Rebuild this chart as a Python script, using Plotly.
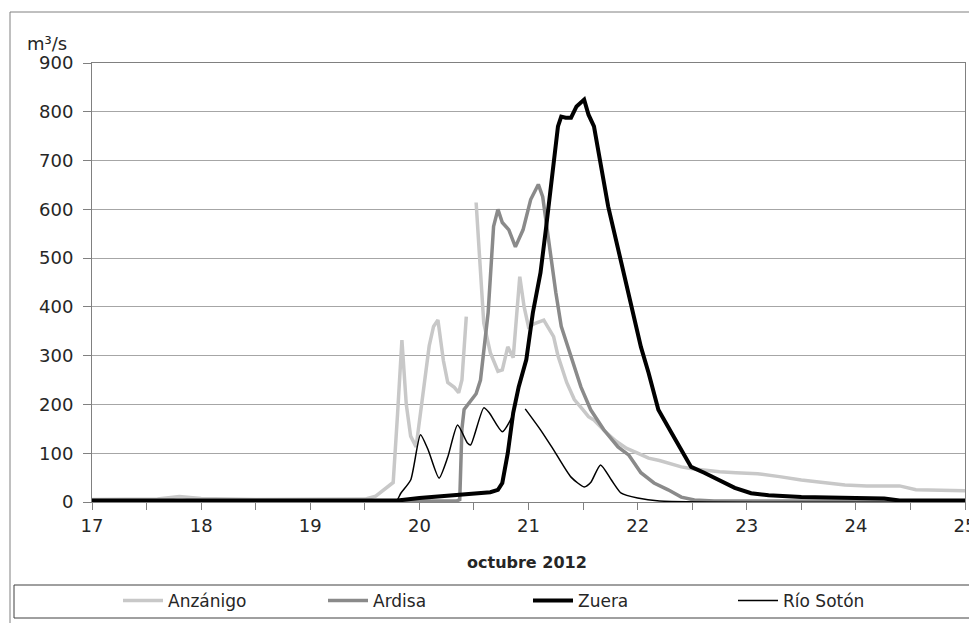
import plotly.graph_objects as go

# ---- data (day of October 2012, m3/s) ----
anz_x = [17.0, 17.6, 17.8, 18.0, 18.5, 19.0, 19.5, 19.6, 19.68, 19.76, 19.8, 19.84, 19.88, 19.92, 19.97,
         20.03, 20.09, 20.13, 20.17, 20.22, 20.26, 20.32, 20.36, 20.39, 20.43, 20.47,
         20.52, 20.59, 20.65, 20.72, 20.76, 20.81, 20.86, 20.92, 20.96, 21.0, 21.05, 21.14, 21.23,
         21.27, 21.35, 21.42, 21.5, 21.55, 21.6, 21.7, 21.8, 21.9, 22.0, 22.1, 22.2, 22.3, 22.4,
         22.5, 22.6, 22.75, 22.9, 23.1, 23.3, 23.5, 23.7, 23.9, 24.1, 24.4, 24.55, 24.7, 25.0]
anz_y = [5, 6, 11, 7, 5, 5, 6, 12, 25, 40, 180, 332, 200, 135, 113,
         220, 320, 360, 373, 290, 245, 235, 224, 250, 380, None,
         614, 367, 306, 268, 271, 318, 296, 462, 400, 359, 365, 373, 339,
         300, 245, 210, 189, 175, 168, 145, 125, 110, 100, 90, 85, 78, 72,
         68, 65, 62, 60, 58, 52, 45, 40, 35, 33, 33, 25, 24, 23]

ard_x = [17.0, 18.0, 19.0, 20.0, 20.34, 20.37, 20.39, 20.41, 20.47, 20.52, 20.56, 20.63, 20.68,
         20.72, 20.76, 20.82, 20.88, 20.95, 21.02, 21.09, 21.13, 21.2, 21.25, 21.3, 21.36, 21.42,
         21.48, 21.57, 21.69, 21.82, 21.92, 22.03, 22.15, 22.28, 22.4, 22.52, 22.7, 25.0]
ard_y = [2, 2, 2, 2, 2, 5, 150, 190, 209, 222, 250, 388, 565,
         600, 573, 558, 523, 558, 620, 651, 626, 510, 430, 360, 320, 280,
         236, 189, 148, 113, 96, 60, 39, 25, 10, 4, 2, 2]

zue_x = [17.0, 18.0, 19.0, 19.8, 20.0, 20.2, 20.4, 20.55, 20.65, 20.72, 20.76, 20.81, 20.86, 20.91,
         20.98, 21.04, 21.11, 21.16, 21.2, 21.23, 21.27, 21.3, 21.34, 21.39, 21.44, 21.51, 21.55,
         21.6, 21.66, 21.73, 21.85, 21.94, 22.03, 22.1, 22.19, 22.31, 22.4, 22.49, 22.61, 22.74,
         22.89, 23.04, 23.2, 23.5, 23.8, 24.0, 24.26, 24.4, 25.0]
zue_y = [3, 3, 3, 3, 8, 12, 15, 17, 20, 25, 39, 100, 183, 236,
         292, 388, 470, 560, 640, 700, 770, 790, 788, 788, 811, 825, 794,
         770, 690, 606, 491, 408, 318, 265, 189, 142, 107, 72, 60, 45,
         29, 18, 14, 10, 10, 8, 7, 3, 3]

rso_x = [17.0, 19.0, 19.78, 19.83, 19.92, 20.01, 20.08, 20.18, 20.26, 20.35, 20.44, 20.47, 20.59,
         20.64, 20.76, 20.86, 20.92, 20.97, 21.11, 21.23, 21.39, 21.51, 21.57, 21.66, 21.76,
         21.85, 22.0, 22.2, 25.0]
rso_y = [0, 0, 0, 18, 45, 138, 107, 49, 92, 158, 121, 117, 193,
         183, 144, 179, None, 191, 148, 107, 51, 31, 40, 76, 45,
         18, 8, 2, 0]

x_ticks = [17 + 0.5 * i for i in range(17)]
x_labels = [str(int(v)) if v == int(v) else "" for v in x_ticks]
y_ticks = list(range(0, 1000, 100))

FONT = "DejaVu Sans, Liberation Sans, Arial, sans-serif"
TXT = "#262626"
fig = go.Figure()
fig.add_trace(go.Scatter(x=anz_x, y=anz_y, mode="lines", name="Anzánigo",
                         line=dict(color="#c8c8c8", width=3.5), connectgaps=False))
fig.add_trace(go.Scatter(x=ard_x, y=ard_y, mode="lines", name="Ardisa",
                         line=dict(color="#8a8a8a", width=3.5)))
fig.add_trace(go.Scatter(x=zue_x, y=zue_y, mode="lines", name="Zuera",
                         line=dict(color="#000000", width=4)))
fig.add_trace(go.Scatter(x=rso_x, y=rso_y, mode="lines", name="Río Sotón",
                         line=dict(color="#000000", width=1.5, shape="spline", smoothing=0.6),
                         connectgaps=False))

# page body has an 8px margin: work in screen pixels and convert
OFF = 8
W, H = 977 - OFF, 623 - OFF
SL, SR, ST, SB = 92, 965, 63, 502          # plot area in screen pixels
def px(xs):
    return (xs - SL) / (SR - SL)
def py(ys):
    return (SB - ys) / (SB - ST)

fig.update_layout(
    width=W, height=H,
    margin=dict(l=SL - OFF, r=W - (SR - OFF), t=ST - OFF, b=H - (SB - OFF), autoexpand=False),
    paper_bgcolor="white", plot_bgcolor="white",
    font=dict(family=FONT, size=18, color=TXT),
    showlegend=True,
    legend=dict(orientation="h", xref="container", yref="container",
                x=(118 - OFF) / W, xanchor="left", y=1 - (601 - OFF) / H, yanchor="middle",
                font=dict(size=17, color=TXT), bgcolor="rgba(0,0,0,0)",
                entrywidth=150, entrywidthmode="pixels", itemwidth=40),
    xaxis=dict(range=[17, 25], tickvals=x_ticks, ticktext=x_labels, ticks="outside",
               ticklen=7, tickcolor="#808080", showgrid=False, showline=True,
               linecolor="#808080", linewidth=1, mirror=True, zeroline=False,
               tickfont=dict(size=18), automargin=False),
    yaxis=dict(range=[0, 900], tickvals=y_ticks, ticks="outside", ticklen=8,
               tickcolor="#808080", showgrid=True, gridcolor="#a6a6a6", gridwidth=1,
               showline=True, linecolor="#808080", linewidth=1, mirror=True,
               zeroline=False, tickfont=dict(size=18), automargin=False,
               ticklabelstandoff=6),
    shapes=[
        dict(type="rect", xref="paper", yref="paper", x0=px(10), x1=px(990), y0=py(640), y1=py(12),
             line=dict(color="#808080", width=1), fillcolor="rgba(0,0,0,0)", layer="below"),
        dict(type="rect", xref="paper", yref="paper", x0=px(14), x1=px(971), y0=py(618), y1=py(585),
             line=dict(color="#404040", width=1), fillcolor="rgba(0,0,0,0)"),
    ],
    annotations=[
        dict(text="m³/s", xref="paper", yref="paper", x=px(47), y=py(44), showarrow=False,
             xanchor="center", yanchor="middle", font=dict(size=18)),
        dict(text="<b>octubre 2012</b>", xref="paper", yref="paper", x=px(527), y=py(562),
             showarrow=False, xanchor="center", yanchor="middle", font=dict(size=16)),
    ],
)

fig.write_html("out.html")
